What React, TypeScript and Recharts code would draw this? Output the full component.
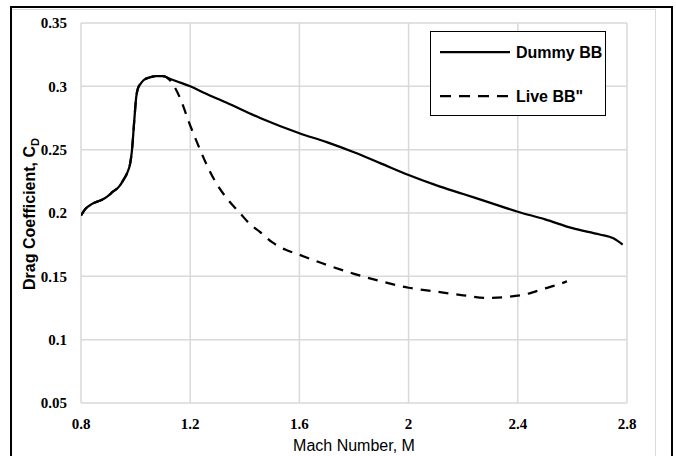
import React from "react";
import { LineChart, Line, XAxis, YAxis, CartesianGrid } from "recharts";

const dummyMach = [0.8, 0.815, 0.839, 0.86, 0.882, 0.918, 0.94, 0.955, 0.97, 0.98, 0.986, 0.99, 0.994, 0.998, 1.002, 1.008, 1.018, 1.03, 1.05, 1.075, 1.1, 1.125, 1.15, 1.2, 1.25, 1.334, 1.456, 1.6, 1.7, 1.8, 1.9, 2.0, 2.1, 2.2, 2.3, 2.4, 2.5, 2.6, 2.7, 2.75, 2.784];
const dummyCd = [0.198, 0.203, 0.207, 0.209, 0.211, 0.217, 0.221, 0.226, 0.232, 0.239, 0.248, 0.258, 0.27, 0.281, 0.291, 0.298, 0.302, 0.305, 0.307, 0.308, 0.308, 0.306, 0.304, 0.3, 0.295, 0.287, 0.275, 0.263, 0.256, 0.248, 0.239, 0.23, 0.222, 0.215, 0.208, 0.201, 0.195, 0.188, 0.183, 0.18, 0.175];

const liveMach = [0.8, 0.815, 0.839, 0.86, 0.882, 0.918, 0.94, 0.955, 0.97, 0.98, 0.986, 0.99, 0.994, 0.998, 1.002, 1.008, 1.018, 1.03, 1.05, 1.075, 1.1, 1.125, 1.144, 1.17, 1.193, 1.215, 1.236, 1.265, 1.297, 1.34, 1.382, 1.42, 1.456, 1.5, 1.55, 1.6, 1.7, 1.8, 1.9, 2.0, 2.1, 2.2, 2.286, 2.371, 2.432, 2.493, 2.54, 2.58];
const liveCd = [0.198, 0.203, 0.207, 0.209, 0.211, 0.217, 0.221, 0.226, 0.232, 0.239, 0.248, 0.258, 0.27, 0.281, 0.291, 0.298, 0.302, 0.305, 0.307, 0.308, 0.308, 0.305, 0.299, 0.287, 0.273, 0.261, 0.25, 0.236, 0.223, 0.21, 0.2, 0.191, 0.185, 0.177, 0.171, 0.167, 0.159, 0.152, 0.146, 0.141, 0.138, 0.135, 0.133, 0.134, 0.136, 0.14, 0.143, 0.146];

const xTicks = [0.8, 1.2, 1.6, 2, 2.4, 2.8];
const xTickLabels = ["0.8", "1.2", "1.6", "2", "2.4", "2.8"];
const yTicks = [0.05, 0.1, 0.15, 0.2, 0.25, 0.3, 0.35];
const yTickLabels = ["0.05", "0.1", "0.15", "0.2", "0.25", "0.3", "0.35"];

const seriesNames = ["Dummy BB", 'Live BB"'];

const dummyData = dummyMach.map((m, i) => ({ m, cd: dummyCd[i] }));
const liveData = liveMach.map((m, i) => ({ m, cd: liveCd[i] }));

const tickStyle = {
  fontFamily: "'Liberation Serif', 'Times New Roman', serif",
  fontWeight: "bold" as const,
  fontSize: 15,
  fill: "#000",
};

const sans = "'Liberation Sans', Arial, sans-serif";

export default function App() {
  return (
    <div
      style={{
        position: "absolute",
        left: 0,
        top: 0,
        width: 676,
        height: 456,
        overflow: "hidden",
        background: "#fff",
      }}
    >
      {/* grey chart-area frame */}
      <div
        style={{
          position: "absolute",
          left: 12,
          top: 9,
          width: 644,
          height: 500,
          borderTop: "1.5px solid #d9d9d9",
          borderRight: "1.5px solid #d9d9d9",
          boxSizing: "border-box",
        }}
      />
      {/* black outer frame */}
      <div
        style={{
          position: "absolute",
          left: 10,
          top: 6,
          width: 663,
          height: 500,
          borderTop: "2px solid #000",
          borderLeft: "2px solid #000",
          borderRight: "2px solid #000",
          boxSizing: "border-box",
        }}
      />
      <div style={{ position: "absolute", left: 0, top: 0 }}>
        <LineChart
          width={676}
          height={456}
          margin={{ top: 23, right: 49, left: 0, bottom: 23 }}
        >
          <CartesianGrid stroke="#d9d9d9" strokeWidth={1.5} />
          <XAxis
            type="number"
            dataKey="m"
            domain={[0.8, 2.8]}
            ticks={xTicks}
            tickFormatter={(v: number) => xTickLabels[xTicks.indexOf(v)] ?? String(v)}
            axisLine={false}
            tickLine={false}
            tickSize={6}
            tickMargin={9}
            height={30}
            tick={tickStyle}
            allowDataOverflow
            label={{
              value: "Mach Number, M",
              position: "bottom",
              offset: 7,
              style: { fontFamily: sans, fontSize: 16, fill: "#000" },
            }}
          />
          <YAxis
            type="number"
            dataKey="cd"
            domain={[0.05, 0.35]}
            ticks={yTicks}
            tickFormatter={(v: number) => yTickLabels[yTicks.indexOf(v)] ?? String(v)}
            axisLine={false}
            tickLine={false}
            tickSize={6}
            tickMargin={8}
            width={81}
            tick={tickStyle}
            allowDataOverflow
            label={{
              content: () => (
                <text
                  x={29}
                  y={214}
                  transform="rotate(-90 29 214)"
                  textAnchor="middle"
                  dominantBaseline="central"
                  fontFamily={sans}
                  fontWeight="bold"
                  fontSize={16}
                  fill="#000"
                >
                  Drag Coefficient, C
                  <tspan baselineShift="sub" fontSize={11}>
                    D
                  </tspan>
                </text>
              ),
            }}
          />
          <Line
            data={dummyData}
            dataKey="cd"
            name={seriesNames[0]}
            type="monotone"
            stroke="#000"
            strokeWidth={2.25}
            dot={false}
            activeDot={false}
            isAnimationActive={false}
          />
          <Line
            data={liveData}
            dataKey="cd"
            name={seriesNames[1]}
            type="monotone"
            stroke="#000"
            strokeWidth={2.25}
            strokeDasharray="10 8"
            dot={false}
            activeDot={false}
            isAnimationActive={false}
          />
        </LineChart>
      </div>
      {/* legend */}
      <div
        style={{
          position: "absolute",
          left: 430,
          top: 31,
          width: 176,
          height: 85,
          border: "1.5px solid #000",
          boxSizing: "border-box",
          background: "#fff",
        }}
      >
        <svg width={176} height={85} style={{ position: "absolute", left: -1.5, top: -1.5 }}>
          <line x1={10} x2={80} y1={21} y2={21} stroke="#000" strokeWidth={2.25} />
          <line x1={10} x2={80} y1={65} y2={65} stroke="#000" strokeWidth={2.25} strokeDasharray="11 8" />
          <text x={86} y={21} dominantBaseline="central" fontFamily={sans} fontWeight="bold" fontSize={16} fill="#000">
            {seriesNames[0]}
          </text>
          <text x={86} y={65} dominantBaseline="central" fontFamily={sans} fontWeight="bold" fontSize={16} fill="#000">
            {seriesNames[1]}
          </text>
        </svg>
      </div>
    </div>
  );
}
